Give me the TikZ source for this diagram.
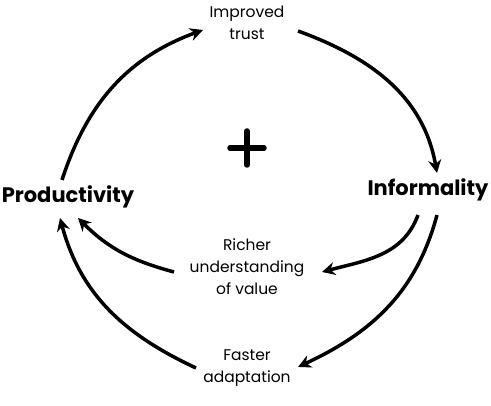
\documentclass[tikz,border=0pt]{standalone}
\usepackage{fontspec}
\setmainfont{Poppins}
\usetikzlibrary{arrows.meta}
\begin{document}
\begin{tikzpicture}[x=1pt,y=1pt,
  lbl/.style={align=center,font=\fontsize{15.5}{22}\selectfont,inner sep=0pt},
  big/.style={font=\fontsize{21}{22}\selectfont\bfseries,inner sep=0pt},
  arr/.style={line width=3.5pt,-{Stealth[length=13pt,width=13pt]}},
  plusbar/.style={line width=5.5pt,line cap=round}]
\useasboundingbox (0,0) rectangle (491,406);
\node[lbl] (trust) at (247,383) {Improved\\trust};
\node[big] (prod) at (68,209) {Productivity};
\node[big] (inf) at (428,216) {Informality};
\node[lbl] (rich) at (247,139) {Richer\\understanding\\of value};
\node[lbl] (fast) at (247,38) {Faster\\adaptation};
\coordinate (plus) at (247,258);
\draw[plusbar] ([xshift=-17pt]plus) -- ([xshift=17pt]plus);
\draw[plusbar] ([yshift=-17pt]plus) -- ([yshift=17pt]plus);
\coordinate (a1) at (62,226); \coordinate (a2) at (203,376);
\coordinate (b1) at (298,375); \coordinate (b2) at (437,233);
\coordinate (c1) at (418,191); \coordinate (c2) at (322,134);
\coordinate (d1) at (174,134); \coordinate (d2) at (78,188);
\coordinate (e1) at (437,191); \coordinate (e2) at (298,39);
\coordinate (f1) at (196,38); \coordinate (f2) at (60,188);
\draw[arr] (a1) to[out=72,in=200] (a2);
\draw[arr] (b1) to[out=-20,in=100] (b2);
\draw[arr] (c1) to[out=-110,in=15] (c2);
\draw[arr] (d1) to[out=165,in=-45] (d2);
\draw[arr] (e1) to[out=-105,in=25] (e2);
\draw[arr] (f1) to[out=155,in=-75] (f2);
\end{tikzpicture}
\end{document}
